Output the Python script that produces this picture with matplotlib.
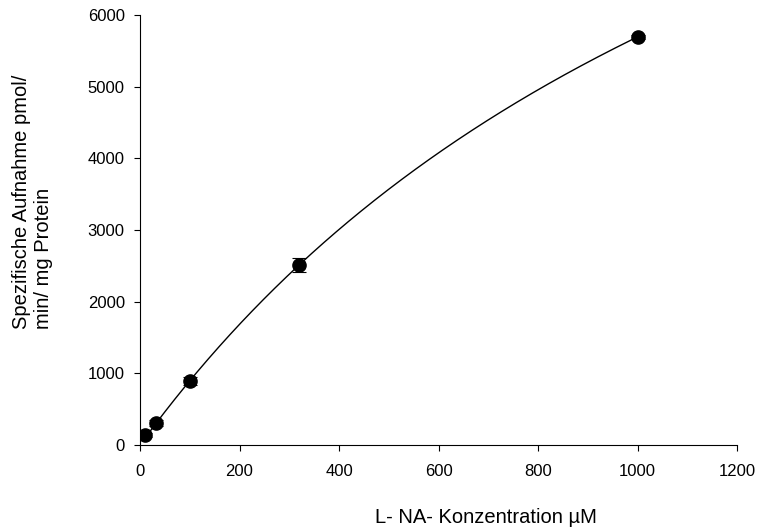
import numpy as np
import matplotlib
matplotlib.use("Agg")
import matplotlib.pyplot as plt

plt.rcParams['font.family'] = ['Liberation Sans', 'DejaVu Sans']

conc = [10, 32, 100, 320, 1000]
uptake = [140, 305, 890, 2510, 5693]
err = [30, 40, 60, 100, 30]

# Michaelis-Menten fit parameters (estimated)
vmax = 14085.0
km = 1474.0

xticks = [0, 200, 400, 600, 800, 1000, 1200]
yticks = [0, 1000, 2000, 3000, 4000, 5000, 6000]

fig = plt.figure(figsize=(7.57, 5.29), dpi=100)
ax = fig.add_axes([0.185, 0.159, 0.7886, 0.8128])

xf = np.linspace(conc[0], conc[-1], 400)
ax.plot(xf, vmax * xf / (km + xf), color='black', lw=1.0)
ax.errorbar(conc, uptake, yerr=err, fmt='o', color='black', ms=9.5,
            capsize=4.7, elinewidth=0.8, capthick=0.8, zorder=3)

ax.set_xlim(0, 1200)
ax.set_ylim(0, 6000)
ax.set_xticks(xticks)
ax.set_yticks(yticks)
ax.spines['top'].set_visible(False)
ax.spines['right'].set_visible(False)
ax.tick_params(direction='out', length=4.5, labelsize=12)
ax.tick_params(axis='y', pad=6.5)
ax.tick_params(axis='x', pad=9)

fig.text(0.642, 0.0113, 'L- NA- Konzentration µM', ha='center', va='baseline', fontsize=14.5)
fig.text(0.043, 0.618, 'Spezifische Aufnahme pmol/\nmin/ mg Protein', rotation=90,
         ha='center', va='center', fontsize=14.5, multialignment='left')

fig.savefig('out.png', dpi=100)
